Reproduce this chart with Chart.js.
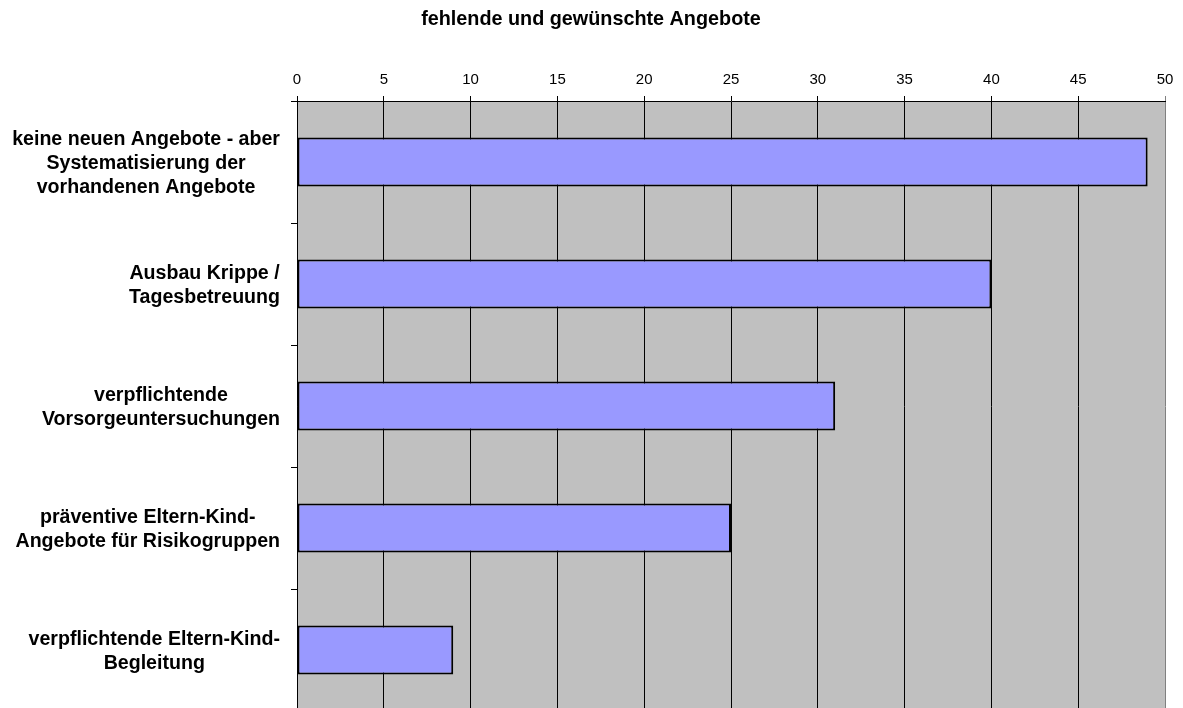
<!DOCTYPE html>
<html>
<head>
<meta charset="utf-8">
<script src="https://cdn.jsdelivr.net/npm/chart.js@4/dist/chart.umd.min.js"></script>
<style>
html,body{margin:0;padding:0;background:#fff;overflow:hidden;}
#wrap{width:1183px;height:711px;}
</style>
</head>
<body>
<div id="wrap"><canvas id="c" width="1183" height="711"></canvas></div>
<script>
const chartTitle = 'fehlende und gewünschte Angebote';
const categories = [
  ['keine neuen Angebote - aber', 'Systematisierung der', 'vorhandenen Angebote'],
  ['Ausbau Krippe /', 'Tagesbetreuung'],
  ['verpflichtende', 'Vorsorgeuntersuchungen'],
  ['präventive Eltern-Kind-', 'Angebote für Risikogruppen'],
  ['verpflichtende Eltern-Kind-', 'Begleitung']
];
const values = [49, 40, 31, 25, 9];
const xMin = 0, xMax = 50, xStep = 5;

const FONT = '"Liberation Sans", Arial, Helvetica, sans-serif';

const bgPlugin = {
  id: 'plotBg',
  beforeDraw(chart) {
    const {ctx, chartArea: a} = chart;
    ctx.save();
    ctx.fillStyle = '#C0C0C0';
    ctx.fillRect(a.left, a.top, a.right - a.left, a.bottom - a.top);
    ctx.restore();
  }
};

const labelPlugin = {
  id: 'catLabels',
  afterDraw(chart) {
    const {ctx} = chart;
    const ys = chart.scales.y;
    ctx.save();
    ctx.font = 'bold 19.6px ' + FONT;
    ctx.fillStyle = '#000';
    ctx.textAlign = 'center';
    ctx.textBaseline = 'alphabetic';
    const rightEdge = 280;
    const lh = 24;
    categories.forEach((lines, i) => {
      const cy = ys.getPixelForValue(i);
      let maxW = 0;
      lines.forEach(l => { maxW = Math.max(maxW, ctx.measureText(l).width); });
      const cx = rightEdge - maxW / 2;
      lines.forEach((l, j) => {
        const y = cy + 7 + (j - (lines.length - 1) / 2) * lh;
        ctx.fillText(l, cx, y);
      });
    });
    // title
    ctx.font = 'bold 19.8px ' + FONT;
    ctx.fillText(chartTitle, 591, 25);
    ctx.restore();
  }
};

new Chart(document.getElementById('c'), {
  type: 'bar',
  data: {
    labels: categories,
    datasets: [{
      data: values,
      backgroundColor: '#9999FF',
      borderColor: '#000000',
      borderWidth: 2,
      borderSkipped: false,
      barPercentage: 0.4,
      categoryPercentage: 1.0
    }]
  },
  options: {
    indexAxis: 'y',
    responsive: false,
    animation: false,
    layout: { padding: { top: 40, right: 18, left: 0, bottom: 0 } },
    plugins: { legend: { display: false }, tooltip: { enabled: false }, title: { display: false } },
    scales: {
      x: {
        position: 'top',
        min: xMin, max: xMax,
        afterFit(axis) { axis.height = 61; },
        ticks: { stepSize: xStep, color: '#000', font: { family: FONT, size: 15 }, padding: 7 },
        grid: {
          color: (c) => (c.tick && c.tick.value === xMax) ? '#808080' : '#000000',
          lineWidth: 1,
          tickLength: 5,
          drawTicks: true
        },
        border: { display: true, color: '#000000', width: 1 }
      },
      y: {
        afterFit(axis) { axis.width = 297; },
        ticks: { display: false },
        grid: { offset: true, drawOnChartArea: false, drawTicks: true, tickLength: 6, color: '#000000' },
        border: { display: true, color: '#000000', width: 1 }
      }
    }
  },
  plugins: [bgPlugin, labelPlugin]
});
</script>
</body>
</html>
